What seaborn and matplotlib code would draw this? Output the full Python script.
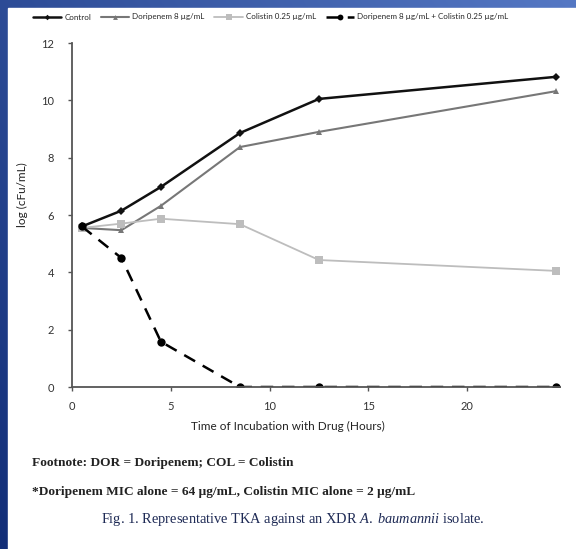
import numpy as np
import pandas as pd
import matplotlib
matplotlib.use("Agg")
import matplotlib.pyplot as plt
import seaborn as sns

hours = [0.5, 2.5, 4.5, 8.5, 12.5, 24.5]
control = [5.6, 6.15, 6.98, 8.86, 10.05, 10.82]
doripenem = [5.55, 5.47, 6.32, 8.37, 8.9, 10.32]
colistin = [5.55, 5.7, 5.87, 5.68, 4.43, 4.05]
combo = [5.6, 4.5, 1.58, 0.0, 0.0, 0.0]
series_names = ["Control", "Doripenem 8 \u00b5g/mL", "Colistin 0.25 \u00b5g/mL",
                "Doripenem 8 \u00b5g/mL + Colistin 0.25 \u00b5g/mL"]
x_ticks = [0, 5, 10, 15, 20]
y_ticks = [0, 2, 4, 6, 8, 10, 12]

sns.set_theme(style="ticks")
plt.rcParams['font.family'] = ['Lato', 'DejaVu Sans']
plt.rcParams['mathtext.fontset'] = 'custom'
plt.rcParams['mathtext.it'] = 'Liberation Serif:italic'
plt.rcParams['mathtext.rm'] = 'Liberation Serif'

fig = plt.figure(figsize=(5.76, 5.49), dpi=100)

# blue slide border (gradient) behind a white panel
bg = fig.add_axes([0, 0, 1, 1], zorder=-10)
grad = np.linspace(0, 1, 256)
gx, gy = np.meshgrid(grad, grad)
t = np.clip(0.6 * gx + 0.4 * (1 - gy), 0, 1)
c0 = np.array([0x12, 0x2e, 0x78]) / 255
c1 = np.array([0x55, 0x78, 0xc4]) / 255
img = c0[None, None, :] * (1 - t[..., None]) + c1[None, None, :] * t[..., None]
bg.imshow(img, extent=[0, 1, 0, 1], aspect='auto', origin='upper')
bg.add_patch(plt.Rectangle((8 / 576, 0), 1, 1 - 8 / 549, color='white'))
bg.set_xlim(0, 1)
bg.set_ylim(0, 1)
bg.axis('off')

ax = fig.add_axes([72 / 576, 1 - 387 / 549, 488 / 576, 344 / 549])
ax.set_facecolor('white')

df = pd.DataFrame({"hours": hours * 4,
                   "value": control + doripenem + colistin + combo,
                   "series": sum([[n] * len(hours) for n in series_names], [])})

styles = [
    dict(color="#111111", marker="D", markersize=4, linewidth=1.8, linestyle="-"),
    dict(color="#777777", marker="^", markersize=5, linewidth=1.5, linestyle="-"),
    dict(color="#bdbdbd", marker="s", markersize=6, linewidth=1.3, linestyle="-"),
    dict(color="#000000", marker="o", markersize=6, linewidth=1.8, linestyle=(0, (5, 3.5))),
]
for name, st in zip(series_names, styles):
    sub = df[df.series == name]
    sns.lineplot(data=sub, x="hours", y="value", ax=ax, label=name,
                 markeredgewidth=0, **st)

ax.set_xlim(0, 24.7)
ax.set_ylim(0, 12)
ax.set_xticks(x_ticks)
ax.set_yticks(y_ticks)
for side in ["top", "right"]:
    ax.spines[side].set_visible(False)
for side in ["left", "bottom"]:
    ax.spines[side].set_color("#555555")
    ax.spines[side].set_linewidth(1.3)
ax.tick_params(axis='both', labelsize=8, colors="#555555", length=3, width=1,
               labelcolor="#333333")
ax.tick_params(axis='y', pad=10)
ax.tick_params(axis='x', pad=7)
ax.set_xlabel("Time of Incubation with Drug (Hours)", fontsize=8.5, color="#222222")
ax.xaxis.set_label_coords(0.443, -0.1)
ax.set_ylabel("log (cFu/mL)", fontsize=8.5, color="#222222")
ax.yaxis.set_label_coords(-0.09, 0.56)

ax.get_legend().remove()
h, l = ax.get_legend_handles_labels()
fig.legend(h, l, loc='center', bbox_to_anchor=(0.47, 1 - 17 / 549), ncol=4,
           frameon=False, fontsize=5.8, handlelength=3.5, columnspacing=1.2,
           handletextpad=0.4, markerscale=0.7)

fig.text(32 / 576, 1 - 463 / 549, "Footnote: DOR = Doripenem; COL = Colistin",
         family="Liberation Serif", fontweight="bold", fontsize=9.6, color="#222222",
         va="center")
fig.text(32 / 576, 1 - 492 / 549,
         "*Doripenem MIC alone = 64 \u00b5g/mL, Colistin MIC alone = 2 \u00b5g/mL",
         family="Liberation Serif", fontweight="bold", fontsize=9.6, color="#222222",
         va="center")
fig.text(293 / 576, 1 - 520 / 549,
         r"Fig. 1. Representative TKA against an XDR $\it{A.\ baumannii}$ isolate.",
         family="Liberation Serif", fontsize=10.4, color="#1e2a55", ha="center",
         va="center")

fig.savefig("out.png", dpi=100)
